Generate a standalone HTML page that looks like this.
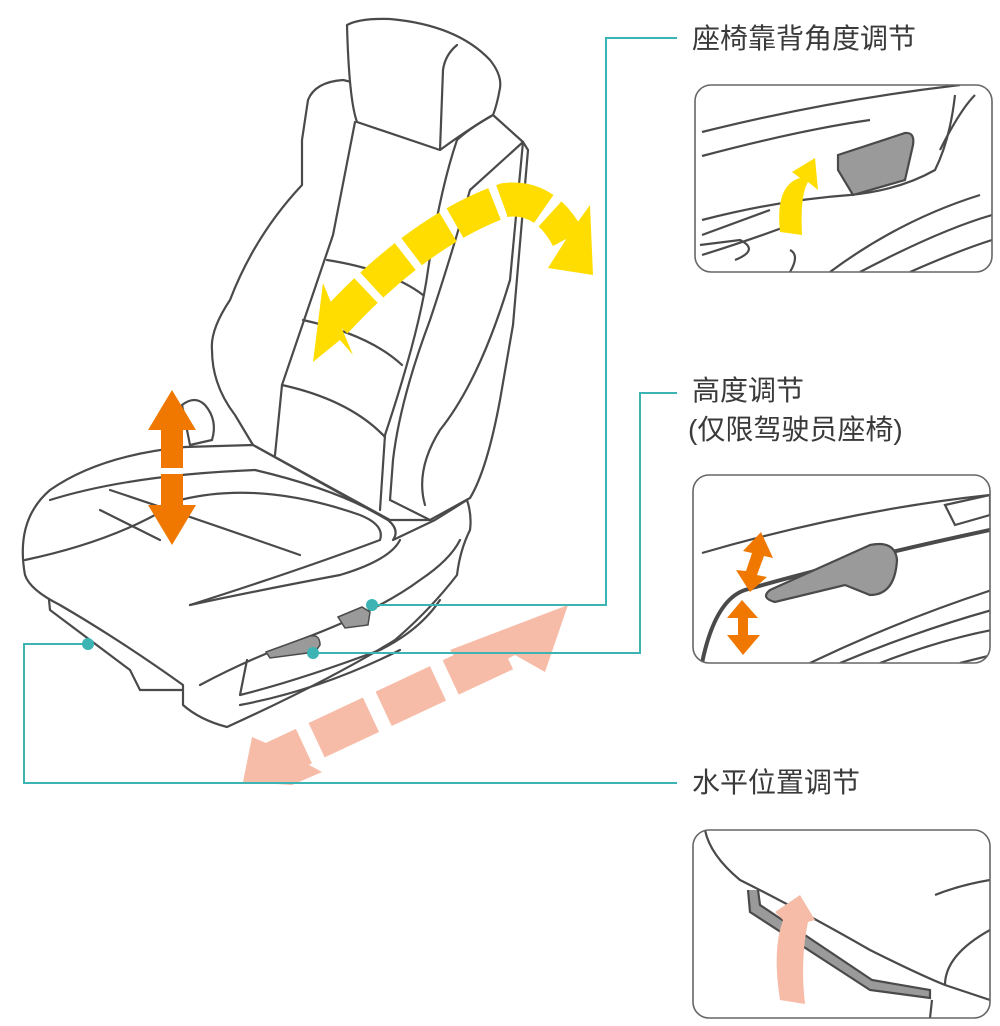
<!DOCTYPE html>
<html><head><meta charset="utf-8"><style>
html,body{margin:0;padding:0;background:#fff;}
svg{display:block;}
text{font-family:"Liberation Sans","Noto Sans CJK SC",sans-serif;font-size:28px;fill:#3a3a3a;}
</style></head><body>
<svg width="1000" height="1026" viewBox="0 0 1000 1026" xmlns="http://www.w3.org/2000/svg">
<g fill="#f7bca8">
<polygon points="450,650 568,605 545,672 515,655 470,678"/>
<polygon points="243,782 252,737 282,750 322,772 292,785"/>
<g stroke="#f7bca8" stroke-width="38" stroke-dasharray="60 14" fill="none"><line x1="505" y1="652" x2="270" y2="762"/></g>
</g>
<g fill="#fff" stroke="#4a4a4a" stroke-width="2.2" stroke-linejoin="round" stroke-linecap="round">
<path d="M343,80 Q315,82 308,100 L302,140 L302,185 Q255,235 230,300 Q210,330 212,350 Q212,385 235,415 L253,445 L390,520 L430,520 L470,498 Q487,470 500,400 L513,325 L528,150 L523,142 L493,115 Z"/>
<path d="M347,25 Q360,18 390,19 Q457,25 490,60 Q502,75 500,88 Q497,105 493,115 Q470,128 440,150 L357,122 Q349,100 347,25 Z"/>
<path d="M457,45 Q445,55 443,70 L440,150"/>
<path d="M355,122 L333,235 L282,385 L275,455"/>
<path d="M457,140 Q440,190 428,270 Q420,330 385,435 L380,510"/>
<path d="M493,115 Q470,128 457,140"/>
<path d="M523,142 L470,190 Q450,260 430,320 Q400,400 393,460 L390,500 L430,520" fill="none"/>
<path d="M523,142 L510,280 Q480,380 440,430 Q415,470 425,505" fill="none"/>
<path d="M327,260 Q390,270 423,295" fill="none"/>
<path d="M303,320 Q370,335 402,365" fill="none"/>
<path d="M282,385 Q350,400 385,437" fill="none"/>
<path d="M182,405 Q195,395 205,405 Q218,420 212,440 L190,445 Z"/>
<path d="M48,590 L50,610 L130,670 L140,690 L185,690 L185,678 L60,605 Z"/>
<path d="M25,575 Q15,520 50,490 Q100,455 185,447 L253,445 L388,520 Q400,530 393,540 L435,520 L467,500 Q472,515 470,530 Q460,550 457,575 Q430,610 395,640 Q330,680 227,727 Q200,720 183,705 L183,685 Q120,640 60,605 Q30,590 25,575 Z"/>
<path d="M25,560 Q120,540 180,500 Q260,480 360,515 Q385,525 380,540 Q300,570 190,605" fill="none"/>
<path d="M50,500 Q130,475 255,470 Q340,490 388,520" fill="none"/>
<path d="M110,490 Q200,520 300,555" fill="none"/>
<path d="M100,510 L160,540" fill="none"/>
<path d="M190,605 Q260,590 340,575 Q390,560 400,540" fill="none"/>
<path d="M200,685 Q247,660 300,640 Q380,610 420,580 Q450,560 460,540" fill="none"/>
<path d="M247,660 L240,695 Q300,680 380,650 Q420,630 440,600" fill="none"/>
<path d="M240,705 Q320,690 400,650" fill="none"/>
</g>
<path d="M338,617 L362,607 L370,612 L368,625 L345,628 Z" fill="#9a9a9a" stroke="#4a4a4a" stroke-width="1.5"/>
<path d="M266,652 L310,636 Q320,634 320,645 L315,652 L270,658 Z" fill="#9a9a9a" stroke="#4a4a4a" stroke-width="1.5"/>
<g fill="#ffdd00">
<polygon points="313,362 323,283 330,300 353,355 340,340"/>
<path d="M335,322 Q420,230 505,200 Q545,195 568,238" fill="none" stroke="#ffdd00" stroke-width="34" stroke-dasharray="44 8"/>
<polygon points="593,275 590,205 572,230 548,268"/>
</g>
<g fill="#f07800">
<polygon points="172,390 196,430 183,430 183,468 161,468 161,430 148,430"/>
<polygon points="172,545 196,505 183,505 183,474 161,474 161,505 148,505"/>
</g>
<g stroke="#3cb4b4" stroke-width="2" fill="none">
<polyline points="372,605 606,605 606,38 677,38"/>
<polyline points="313,653 640,653 640,393 677,393"/>
<polyline points="88,644 24,644 24,783 677,783"/>
</g>
<g fill="#3cb4b4"><circle cx="372" cy="605" r="6"/><circle cx="313" cy="653" r="6"/><circle cx="88" cy="644" r="6"/></g>
<text x="692" y="48">座椅靠背角度调节</text>
<text x="692" y="400">高度调节</text>
<text x="688" y="439">(仅限驾驶员座椅)</text>
<text x="692" y="792">水平位置调节</text>
<defs>
<clipPath id="c1"><rect x="695" y="85" width="297" height="187" rx="16"/></clipPath>
<clipPath id="c2"><rect x="693" y="475" width="297" height="188" rx="16"/></clipPath>
<clipPath id="c3"><rect x="693" y="830" width="297" height="188" rx="16"/></clipPath>
</defs>
<g clip-path="url(#c1)" fill="none" stroke="#4a4a4a" stroke-width="2.2">
<path d="M702,132 Q830,100 960,85"/>
<path d="M702,156 Q800,130 870,120"/>
<path d="M702,220 Q780,200 850,195 Q900,190 935,170 Q950,140 955,95"/>
<path d="M702,235 L770,210"/>
<path d="M702,255 Q750,240 790,225"/>
<path d="M830,272 Q900,220 980,195"/>
<path d="M860,272 Q940,230 992,215"/>
<path d="M910,272 Q960,250 992,240"/>
<path d="M940,150 Q960,110 975,95"/>
<path d="M700,245 L740,240 Q760,250 735,260"/>
<path d="M790,272 Q800,255 790,250"/>
<path d="M838,155 L905,133 Q915,132 913,145 L905,180 L853,195 L838,170 Z" fill="#9a9a9a"/>
</g>
<path d="M780,232 Q775,185 800,178 L792,172 L815,158 L818,190 L808,182 Q800,195 802,235 Z" fill="#ffdd00"/>
<rect x="695" y="85" width="297" height="187" rx="16" fill="none" stroke="#666" stroke-width="1.6"/>
<g clip-path="url(#c2)" fill="none" stroke="#4a4a4a" stroke-width="2.2">
<path d="M702,553 Q850,510 990,495"/>
<path d="M702,663 Q715,600 745,590 Q850,560 990,530" stroke-width="4"/>
<path d="M810,663 Q900,620 992,590"/>
<path d="M840,663 Q920,630 992,610"/>
<path d="M880,663 Q940,640 992,630"/>
<path d="M960,663 L992,655"/>
<path d="M945,505 L990,495 L990,515 L955,525 Z"/>
<path d="M770,590 L870,545 Q895,540 897,560 Q895,595 870,595 L845,585 L775,602 Q760,598 770,590 Z" fill="#9a9a9a"/>
</g>
<g fill="#f07800">
<polygon points="761,532 773,558 764,556 757,575 767,577 750,592 736,570 746,571 752,553 743,551"/>
<polygon points="743,655 760,635 748,635 748,618 758,618 742,600 727,618 738,618 738,635 727,635"/>
</g>
<rect x="693" y="475" width="297" height="188" rx="16" fill="none" stroke="#666" stroke-width="1.6"/>
<g clip-path="url(#c3)" fill="none" stroke="#4a4a4a" stroke-width="2.2">
<path d="M705,830 Q710,855 740,880 Q800,910 870,950 Q920,975 945,985 L990,1000"/>
<path d="M935,895 Q960,885 990,880"/>
<path d="M945,985 Q945,955 990,930"/>
<path d="M930,1018 L932,1000"/>
<path d="M748,890 L750,912 L870,990 L930,998 L930,990 L872,980 L760,905 L758,890" fill="#9a9a9a"/>
</g>
<path d="M780,1000 Q772,950 783,920 L775,912 L800,895 L815,920 L808,922 Q800,960 805,1004 Z" fill="#f7bca8"/>
<rect x="693" y="830" width="297" height="188" rx="16" fill="none" stroke="#666" stroke-width="1.6"/>
</svg>
</body></html>
